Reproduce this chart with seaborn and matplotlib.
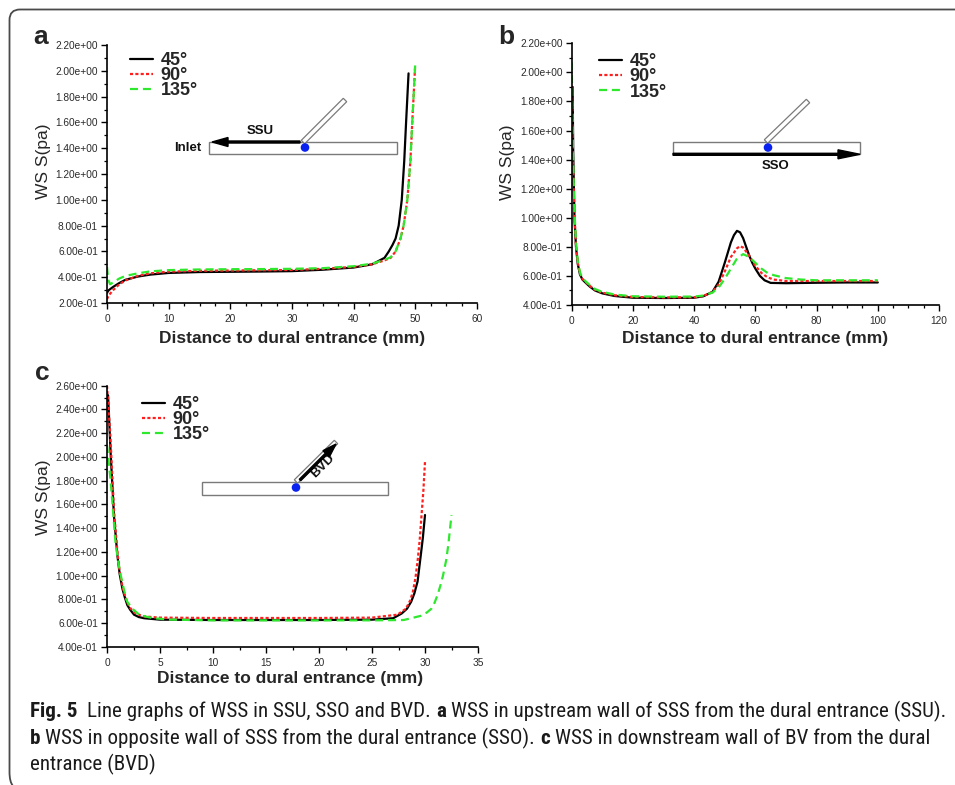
import numpy as np
import pandas as pd
import seaborn as sns
import matplotlib
matplotlib.use("Agg")
import matplotlib.pyplot as plt
from matplotlib.patches import Rectangle, Circle, Polygon, FancyArrow, PathPatch
from matplotlib.path import Path
from matplotlib.ticker import MultipleLocator, FormatStrFormatter
from matplotlib import font_manager as fm

# ---------------- data ----------------
ANGLES = ["45°", "90°", "135°"]

# panel a (SSU)
A_X45 = [0, 0.3, 1, 2, 3, 5, 7, 10, 15, 20, 25, 30, 35, 40, 43, 45, 45.7, 46.3, 46.8, 47.3, 47.8, 48.2, 48.5, 48.9]
A_Y45 = [0.28, 0.30, 0.325, 0.355, 0.38, 0.405, 0.42, 0.433, 0.44, 0.442, 0.444, 0.447, 0.458, 0.475, 0.50, 0.55, 0.60, 0.65, 0.70, 0.80, 1.00, 1.30, 1.60, 1.98]
A_X90 = [0, 0.3, 1, 2, 3, 5, 7, 10, 15, 20, 25, 30, 35, 40, 43, 45, 46, 46.8, 47.6, 48.1, 48.7, 49.2, 49.5, 49.95]
A_Y90 = [0.23, 0.26, 0.30, 0.345, 0.375, 0.41, 0.43, 0.443, 0.45, 0.452, 0.454, 0.456, 0.465, 0.48, 0.50, 0.53, 0.55, 0.60, 0.70, 0.80, 1.00, 1.30, 1.60, 2.02]
A_X135 = [0, 0.2, 0.5, 1, 2, 3, 5, 7, 10, 15, 20, 25, 30, 35, 40, 43, 45, 46, 46.8, 47.6, 48.1, 48.7, 49.2, 49.5, 50]
A_Y135 = [0.48, 0.38, 0.345, 0.36, 0.39, 0.41, 0.43, 0.445, 0.455, 0.46, 0.462, 0.463, 0.465, 0.47, 0.485, 0.505, 0.535, 0.555, 0.60, 0.70, 0.80, 1.00, 1.30, 1.60, 2.07]

# panel b (SSO)
B_X45 = [0.3, 0.5, 0.9, 1.4, 2, 2.7, 3.5, 4.7, 6, 7.6, 10, 14, 20, 30, 40, 43, 46, 48, 50, 52, 53, 54, 55, 56, 57, 58, 59, 60, 61.5, 63, 65, 70, 80, 90, 100]
B_Y45 = [1.9, 1.45, 1.0, 0.8, 0.68, 0.61, 0.575, 0.55, 0.525, 0.5, 0.48, 0.462, 0.45, 0.448, 0.45, 0.46, 0.49, 0.56, 0.69, 0.83, 0.88, 0.91, 0.90, 0.86, 0.80, 0.74, 0.69, 0.65, 0.60, 0.57, 0.552, 0.55, 0.553, 0.555, 0.555]
B_X90 = [0.1, 0.4, 0.9, 1.4, 2, 2.7, 3.5, 4.7, 6, 7.6, 10, 14, 20, 30, 40, 43, 46, 48, 50, 52, 54, 55, 56, 58, 60, 62, 64, 66, 70, 80, 90, 100]
B_Y90 = [1.9, 1.4, 1.02, 0.81, 0.69, 0.615, 0.58, 0.555, 0.53, 0.505, 0.485, 0.467, 0.455, 0.452, 0.453, 0.462, 0.49, 0.54, 0.63, 0.73, 0.79, 0.805, 0.795, 0.74, 0.67, 0.62, 0.59, 0.575, 0.565, 0.565, 0.565, 0.565]
B_X135 = [0, 0.4, 0.9, 1.4, 2, 2.7, 3.5, 4.7, 6, 7.6, 10, 14, 20, 30, 40, 43, 46, 48, 50, 52, 54, 56, 58, 60, 62, 64, 66, 70, 75, 80, 90, 100]
B_Y135 = [2.07, 1.45, 1.05, 0.83, 0.70, 0.625, 0.585, 0.56, 0.535, 0.51, 0.49, 0.472, 0.46, 0.457, 0.458, 0.465, 0.485, 0.52, 0.58, 0.65, 0.72, 0.75, 0.73, 0.69, 0.65, 0.62, 0.605, 0.585, 0.575, 0.57, 0.57, 0.57]

# panel c (BVD)
C_X45 = [0.1, 0.35, 0.66, 0.98, 1.2, 1.45, 1.7, 1.92, 2.2, 2.55, 3.0, 3.5, 5, 10, 15, 20, 25, 27, 27.8, 28.3, 28.7, 29.0, 29.3, 29.6, 29.8, 30]
C_Y45 = [2.52, 2.02, 1.5, 1.17, 1.01, 0.89, 0.81, 0.75, 0.71, 0.67, 0.65, 0.64, 0.628, 0.625, 0.625, 0.625, 0.628, 0.64, 0.68, 0.72, 0.78, 0.85, 0.95, 1.17, 1.32, 1.51]
C_X90 = [0, 0.3, 0.66, 0.98, 1.2, 1.45, 1.7, 1.92, 2.2, 2.55, 3.0, 3.5, 5, 10, 15, 20, 25, 27.4, 28.2, 28.6, 28.85, 29.1, 29.3, 29.5, 29.7, 29.85, 30]
C_Y90 = [2.6, 2.2, 1.55, 1.2, 1.03, 0.91, 0.83, 0.77, 0.725, 0.69, 0.67, 0.655, 0.645, 0.642, 0.642, 0.642, 0.645, 0.67, 0.72, 0.79, 0.86, 0.98, 1.12, 1.3, 1.54, 1.72, 1.96]
C_X135 = [0, 0.35, 0.8, 1.05, 1.3, 1.6, 1.9, 2.4, 2.9, 3.6, 4.4, 6, 10, 15, 20, 25, 28, 29.6, 30.2, 30.6, 30.9, 31.2, 31.5, 31.7, 32.0, 32.2, 32.5]
C_Y135 = [2.1, 1.79, 1.28, 1.12, 1.0, 0.88, 0.78, 0.72, 0.68, 0.655, 0.64, 0.628, 0.622, 0.622, 0.622, 0.622, 0.625, 0.66, 0.69, 0.72, 0.77, 0.84, 0.93, 1.0, 1.13, 1.26, 1.51]

PANEL_LETTERS = ["a", "b", "c"]
XLABEL = "Distance to dural entrance (mm)"
YLABEL = "WS S(pa)"

CAPTION_LINES = [
    [("Fig. 5", True), ("  ", None), ("Line graphs of WSS in SSU, SSO and BVD.", False), (" ", None),
     ("a", True), (" ", None), ("WSS in upstream wall of SSS from the dural entrance (SSU).", False)],
    [("b", True), (" ", None), ("WSS in opposite wall of SSS from the dural entrance (SSO).", False), (" ", None),
     ("c", True), (" ", None), ("WSS in downstream wall of BV from the dural", False)],
    [("entrance (BVD)", False)],
]

# ---------------- style ----------------
sns.set_theme(style="ticks")
plt.rcParams["font.family"] = ["Liberation Sans", "DejaVu Sans"]


def _w(v):
    try:
        return int(v)
    except (TypeError, ValueError):
        return fm.weight_dict.get(str(v), 400)


def pick_caption_font():
    """Find a narrow family with a regular (or light) face; else Liberation Sans."""
    info = {}
    for f in fm.fontManager.ttflist:
        if f.style != "normal":
            continue
        info.setdefault((f.name, str(f.stretch)), []).append(_w(f.weight))
    order = ["Liberation Sans Narrow", "Open Sans Condensed", "Roboto Condensed", "Noto Sans Condensed",
             "DejaVu Sans Condensed", "Arial Narrow"]
    for cand in order:
        for (name, stretch), ws in info.items():
            if name == cand:
                light = [w for w in ws if w <= 450]
                bold = [w for w in ws if w >= 600]
                if light:
                    return dict(family=[name, "DejaVu Sans"], stretch=stretch, reg=max(light),
                                bold=(max(bold) if bold else "bold"))
    for (name, stretch), ws in info.items():
        if "condensed" in stretch and name in ("DejaVu Sans", "Noto Sans", "Open Sans", "Roboto"):
            light = [w for w in ws if w <= 450]
            bold = [w for w in ws if w >= 600]
            if light:
                return dict(family=[name, "DejaVu Sans"], stretch=stretch, reg=max(light),
                            bold=(max(bold) if bold else "bold"))
    return dict(family=["Liberation Sans", "DejaVu Sans"], stretch="normal", reg="normal", bold="bold")


CAP = pick_caption_font()

PALETTE = {"45°": "#000000", "90°": "#ff1f1f", "135°": "#2ee82e"}
DASHES = {"45°": "", "90°": (1.4, 1.0), "135°": (3.6, 2.2)}
LW = 1.6

W, H = 955, 785
fig = plt.figure(figsize=(W / 100, H / 100), dpi=100)


def px_axes(left, top, right, bottom):
    return fig.add_axes([left / W, 1 - bottom / H, (right - left) / W, (bottom - top) / H])


def make_panel(ax, series, xlim, ylim, xmaj, xmin_, ymaj, ymin_, leg_anchor, xl_y, yl_xy):
    frames = []
    for lab, (xs, ys) in zip(ANGLES, series):
        frames.append(pd.DataFrame({"x": xs, "y": ys, "angle": lab}))
    df = pd.concat(frames, ignore_index=True)
    sns.lineplot(data=df, x="x", y="y", hue="angle", style="angle", hue_order=ANGLES, style_order=ANGLES,
                 palette=PALETTE, dashes=DASHES, estimator=None, sort=False, lw=LW, ax=ax)
    leg = ax.get_legend()
    handles = list(leg.legend_handles)
    labels = [t.get_text() for t in leg.texts]
    for h in handles:
        h.set_linewidth(LW)
    ax.legend(handles, labels, loc="upper left", bbox_to_anchor=leg_anchor, frameon=False,
              borderpad=0, borderaxespad=0, handlelength=1.3, handletextpad=0.4,
              labelspacing=-0.1, prop={"weight": "bold", "size": 13})
    ax.set_xlim(*xlim)
    ax.set_ylim(*ylim)
    ax.xaxis.set_major_locator(MultipleLocator(xmaj))
    ax.xaxis.set_minor_locator(MultipleLocator(xmin_))
    ax.yaxis.set_major_locator(MultipleLocator(ymaj))
    ax.yaxis.set_minor_locator(MultipleLocator(ymin_))
    ax.yaxis.set_major_formatter(FormatStrFormatter("%.2e"))
    ax.xaxis.set_major_formatter(FormatStrFormatter("%g"))
    ax.tick_params(which="major", direction="out", length=4, width=1, labelsize=7.3, pad=2.5,
                   color="black", labelcolor="#2a2a2a")
    ax.tick_params(which="minor", direction="out", length=2.2, width=0.9, color="black")
    ax.tick_params(axis="x", which="major", pad=4)
    for s in ["top", "right"]:
        ax.spines[s].set_visible(False)
    for s in ["left", "bottom"]:
        ax.spines[s].set_linewidth(1.2)
        ax.spines[s].set_color("black")
    ax.set_xlabel(XLABEL, fontsize=12.5, fontweight="bold")
    ax.xaxis.set_label_coords(0.5, xl_y)
    ax.set_ylabel(YLABEL, fontsize=12.5)
    ax.yaxis.set_label_coords(*yl_xy)
    ax.set_facecolor("none")


ax_a = px_axes(107, 45, 477, 303)
ax_b = px_axes(571.7, 43.3, 939, 305)
ax_c = px_axes(107, 385.7, 478, 646.7)

make_panel(ax_a, [(A_X45, A_Y45), (A_X90, A_Y90), (A_X135, A_Y135)], (0, 60), (0.2, 2.2), 10, 2.5, 0.2, 0.1,
           (0.062, 0.973), -0.109, (-0.152, 0.548))
make_panel(ax_b, [(B_X45, B_Y45), (B_X90, B_Y90), (B_X135, B_Y135)], (0, 120), (0.4, 2.2), 20, 5, 0.2, 0.1,
           (0.074, 0.962), -0.099, (-0.155, 0.546))
make_panel(ax_c, [(C_X45, C_Y45), (C_X90, C_Y90), (C_X135, C_Y135)], (0, 35), (0.4, 2.6), 5, 2.5, 0.2, 0.1,
           (0.0935, 0.961), -0.093, (-0.152, 0.573))
ax_c.xaxis.set_label_coords(0.493, -0.093)

# ---------------- overlay (decorations in pixel coords) ----------------
ov = fig.add_axes([0, 0, 1, 1], zorder=10)
ov.set_xlim(0, W)
ov.set_ylim(H, 0)
ov.axis("off")
ov.patch.set_alpha(0)

# frame
verts = [(W + 2, 9.5), (20, 9.5), (9.5, 9.5), (9.5, 20), (9.5, 772), (9.5, 782), (13, 786)]
codes = [Path.MOVETO, Path.LINETO, Path.CURVE3, Path.CURVE3, Path.LINETO, Path.CURVE3, Path.CURVE3]
ov.add_patch(PathPatch(Path(verts, codes), fill=False, edgecolor="#4a4a4a", lw=1.3, clip_on=False))

# panel letters
for lab, (x, y) in zip(PANEL_LETTERS, [(41, 44), (506, 44), (42, 380)]):
    ov.text(x, y, lab, fontsize=19, fontweight="bold", ha="center", va="baseline")

EDGE = "#7a7a7a"


def tube(x0, y0, x1, y1, w=2.4):
    d = np.array([x1 - x0, y1 - y0], float)
    d /= np.hypot(*d)
    p = np.array([-d[1], d[0]]) * w
    pts = [(x0 + p[0], y0 + p[1]), (x1 + p[0], y1 + p[1]), (x1 - p[0], y1 - p[1]), (x0 - p[0], y0 - p[1])]
    ov.add_patch(Polygon(pts, closed=True, facecolor="white", edgecolor=EDGE, lw=0.9, zorder=3))


def vessel(x0, y0, x1, y1):
    ov.add_patch(Rectangle((x0, y0), x1 - x0, y1 - y0, facecolor="white", edgecolor=EDGE, lw=1.0, zorder=2))


def dot(x, y):
    ov.add_patch(Circle((x, y), 4.3, facecolor="#0a22f0", edgecolor="none", zorder=6))


# panel a inset
vessel(209, 141.5, 397, 154)
tube(303, 142, 345, 100)
ov.add_patch(FancyArrow(300, 142, -88, 0, width=2.0, head_width=9, head_length=16,
                        length_includes_head=True, color="black", zorder=5))
dot(305, 147.5)
ov.text(260, 131, "SSU", fontsize=9.5, fontweight="bold", ha="center", va="center", color="#111")
ov.text(188, 148, "Inlet", fontsize=9.5, fontweight="bold", ha="center", va="center", color="#111")

# panel b inset
vessel(673, 141.5, 859.5, 154.3)
tube(766, 141.5, 808, 101)
ov.add_patch(FancyArrow(673, 154.3, 187, 0, width=2.0, head_width=9, head_length=22,
                        length_includes_head=True, color="black", zorder=5))
dot(768, 147.5)
ov.text(776, 166, "SSO", fontsize=9.5, fontweight="bold", ha="center", va="center", color="#111")

# panel c inset
vessel(201.7, 481.5, 388.3, 495)
tube(296, 481.5, 336, 442)
ov.add_patch(FancyArrow(300, 480, 36, -36, width=2.0, head_width=9, head_length=14,
                        length_includes_head=True, color="black", zorder=5))
dot(296, 487.5)
ov.text(323, 466, "BVD", fontsize=9.5, fontweight="bold", ha="center", va="center", rotation=45, color="#111")

# ---------------- caption ----------------
renderer = fig.canvas.get_renderer()


def cap_text(x, y, s, size, bold, **kw):
    return ov.text(x, y, s, fontsize=size, fontweight=CAP["bold"] if bold else CAP["reg"],
                   family=CAP["family"], fontstretch=CAP["stretch"], **kw)


def text_width(s, size, bold):
    t = cap_text(0, 0, s, size, bold)
    w = t.get_window_extent(renderer=renderer).width
    t.remove()
    return w


def piece_width(s, bold, size):
    if bold is None:
        sp = text_width("a a", size, False) - text_width("aa", size, False)
        return sp * len(s)
    return text_width(s, size, bold)


def line_width(line, size):
    return sum(piece_width(s, b, size) for s, b in line)


base = 12.0
cap_size = base * 916.0 / line_width(CAPTION_LINES[0], base)

for line, y in zip(CAPTION_LINES, [717, 744, 770]):
    x = 30.0
    for s, b in line:
        if b is None:
            x += piece_width(s, None, cap_size)
            continue
        t = cap_text(x, y, s, cap_size, b, ha="left", va="baseline", color="#1a1a1a")
        x += t.get_window_extent(renderer=renderer).width

fig.savefig("out.png", dpi=100)
